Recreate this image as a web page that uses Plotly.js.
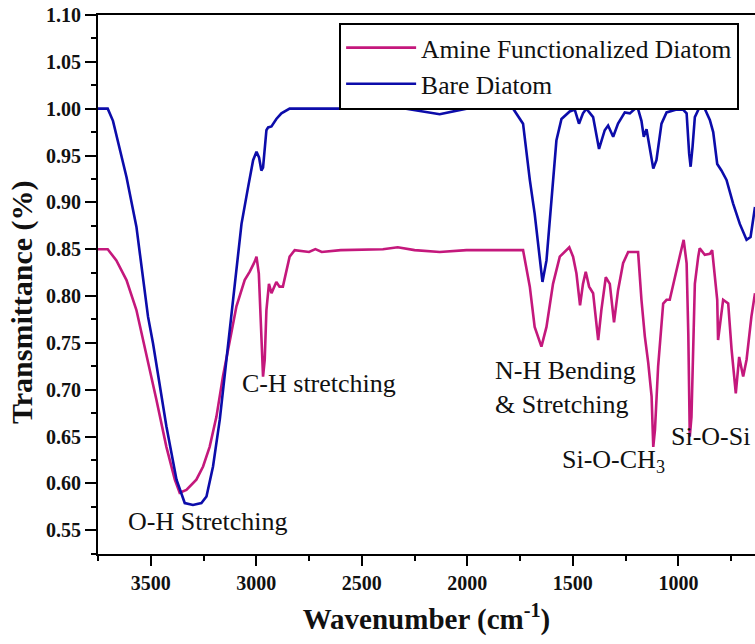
<!DOCTYPE html>
<html>
<head>
<meta charset="utf-8">
<script src="https://cdn.plot.ly/plotly-3.0.1.min.js"></script>
<style>
html,body{margin:0;padding:0;background:#fff;overflow:hidden;}
#chart{width:755px;height:644px;}
</style>
</head>
<body>
<div id="chart"></div>
<script>
// Bare Diatom
const bareWavenumber = [3750,3704,3679,3615,3568,3513,3489,3426,3378,3339,3300,3260,3236,3205,3173,3141,3110,3087,3070,3039,3015,2999,2987,2976,2968,2952,2944,2928,2905,2881,2842,2600,2400,2344,2290,2131,2004,1850,1783,1736,1704,1681,1657,1644,1625,1601,1578,1554,1515,1491,1471,1452,1436,1404,1376,1349,1333,1309,1286,1254,1230,1215,1194,1175,1164,1151,1135,1119,1104,1080,1056,1009,978,961,949,942,933,922,899,875,851,835,816,796,772,741,709,677,658,637];
const bareTransmittance = [1.000,1.000,0.987,0.927,0.874,0.778,0.749,0.661,0.604,0.579,0.577,0.579,0.586,0.618,0.668,0.732,0.790,0.838,0.877,0.916,0.945,0.954,0.948,0.934,0.937,0.977,0.980,0.981,0.989,0.995,1.000,1.000,1.001,1.003,1.000,0.994,1.000,1.000,1.000,0.984,0.924,0.888,0.838,0.815,0.838,0.906,0.966,0.989,0.997,0.999,0.984,0.995,1.000,0.991,0.957,0.977,0.982,0.970,0.984,0.996,0.995,0.998,1.002,0.987,0.970,0.978,0.956,0.936,0.945,0.984,0.996,0.999,0.999,0.995,0.952,0.938,0.959,0.991,1.002,1.000,0.988,0.975,0.941,0.934,0.924,0.899,0.877,0.860,0.863,0.895];

// Amine Functionalized Diatom
const amineWavenumber = [3750,3704,3663,3615,3568,3521,3473,3426,3386,3363,3331,3284,3252,3221,3189,3158,3126,3094,3055,3031,3007,2999,2988,2984,2976,2968,2960,2952,2940,2928,2905,2890,2874,2842,2818,2750,2720,2690,2600,2400,2330,2250,2131,2004,1850,1736,1704,1681,1649,1625,1594,1562,1517,1499,1483,1466,1452,1439,1423,1404,1380,1365,1344,1325,1305,1286,1262,1238,1191,1175,1159,1143,1127,1119,1111,1096,1072,1056,1041,1017,994,975,961,953,946,938,930,922,906,899,875,851,840,827,816,812,803,788,764,748,728,712,693,677,654,637];
const amineTransmittance = [0.850,0.850,0.838,0.817,0.785,0.739,0.689,0.639,0.604,0.590,0.593,0.604,0.618,0.639,0.671,0.714,0.753,0.789,0.817,0.826,0.837,0.842,0.824,0.803,0.749,0.714,0.732,0.785,0.813,0.803,0.815,0.810,0.810,0.842,0.849,0.847,0.850,0.847,0.849,0.850,0.852,0.849,0.847,0.849,0.849,0.849,0.810,0.767,0.746,0.767,0.813,0.842,0.852,0.842,0.824,0.790,0.813,0.826,0.810,0.803,0.753,0.785,0.820,0.813,0.772,0.806,0.835,0.847,0.847,0.796,0.757,0.729,0.693,0.639,0.657,0.725,0.792,0.796,0.796,0.821,0.842,0.860,0.835,0.759,0.650,0.671,0.759,0.813,0.842,0.851,0.844,0.845,0.849,0.824,0.796,0.753,0.771,0.796,0.792,0.743,0.696,0.735,0.714,0.732,0.778,0.803];

const seriesNames = ["Amine Functionalized Diatom", "Bare Diatom"];
const xTickVals = [3500,3000,2500,2000,1500,1000];
const yTickVals = [0.55,0.60,0.65,0.70,0.75,0.80,0.85,0.90,0.95,1.00,1.05,1.10];

const serif = "Liberation Serif, Times New Roman, serif";

const traces = [
  {x: amineWavenumber, y: amineTransmittance, name: seriesNames[0], type: "scatter", mode: "lines",
   line: {color: "#C4187C", width: 2.6}},
  {x: bareWavenumber, y: bareTransmittance, name: seriesNames[1], type: "scatter", mode: "lines",
   line: {color: "#0C0CAA", width: 2.6}}
];

const layout = {
  width: 755, height: 644,
  margin: {l: 98, r: 0, t: 15, b: 90},
  paper_bgcolor: "#fff", plot_bgcolor: "#fff",
  showlegend: true,
  legend: {
    x: 0.367, y: 0.986, xanchor: "left", yanchor: "top",
    bgcolor: "#fff", bordercolor: "#000", borderwidth: 2,
    font: {family: serif, size: 25.5, color: "#111"},
    itemwidth: 70, tracegroupgap: 0
  },
  xaxis: {
    range: [3750, 637], autorange: false,
    tickvals: xTickVals, ticks: "outside", ticklen: 10, tickwidth: 2, tickcolor: "#000",
    minor: {dtick: 250, tick0: 0, ticks: "outside", ticklen: 5, tickwidth: 2, tickcolor: "#000", showgrid: false},
    showline: true, linecolor: "#000", linewidth: 2, mirror: true,
    showgrid: false, zeroline: false,
    tickfont: {family: serif, size: 20, color: "#111", weight: "bold"},
    title: {text: "<b>Wavenumber (cm<sup>-1</sup>)</b>", font: {family: serif, size: 29, color: "#111"}, standoff: 16}
  },
  yaxis: {
    range: [0.5246, 1.10], autorange: false,
    tickvals: yTickVals, tickformat: ".2f",
    ticks: "outside", ticklen: 11, tickwidth: 2, tickcolor: "#000",
    minor: {dtick: 0.025, tick0: 0, ticks: "outside", ticklen: 5, tickwidth: 2, tickcolor: "#000", showgrid: false},
    showline: true, linecolor: "#000", linewidth: 2, mirror: false,
    showgrid: false, zeroline: false,
    tickfont: {family: serif, size: 20, color: "#111", weight: "bold"}
  },
  annotations: [
    {x: -0.1157, y: 0.4674, xref: "paper", yref: "paper", xanchor: "center", yanchor: "middle",
     text: "<b>Transmittance (%)</b>",
     textangle: -90, showarrow: false, font: {family: serif, size: 30, color: "#111"}},
    {x: 3230, y: 0.559, xref: "x", yref: "y", text: "O-H Stretching", showarrow: false,
     font: {family: serif, size: 26, color: "#111"}},
    {x: 2704, y: 0.707, xref: "x", yref: "y", text: "C-H stretching", showarrow: false,
     font: {family: serif, size: 26, color: "#111"}},
    {x: 1879, y: 0.702, xref: "x", yref: "y", xanchor: "left", align: "left",
     text: "N-H Bending<br>& Stretching", showarrow: false,
     font: {family: serif, size: 26, color: "#111"}},
    {x: 1306, y: 0.624, xref: "x", yref: "y", text: "Si-O-CH<sub>3</sub>", showarrow: false,
     font: {family: serif, size: 26, color: "#111"}},
    {x: 846, y: 0.650, xref: "x", yref: "y", text: "Si-O-Si", showarrow: false,
     font: {family: serif, size: 26, color: "#111"}}
  ]
};

Plotly.newPlot("chart", traces, layout, {displayModeBar: false, staticPlot: true});
</script>
</body>
</html>
